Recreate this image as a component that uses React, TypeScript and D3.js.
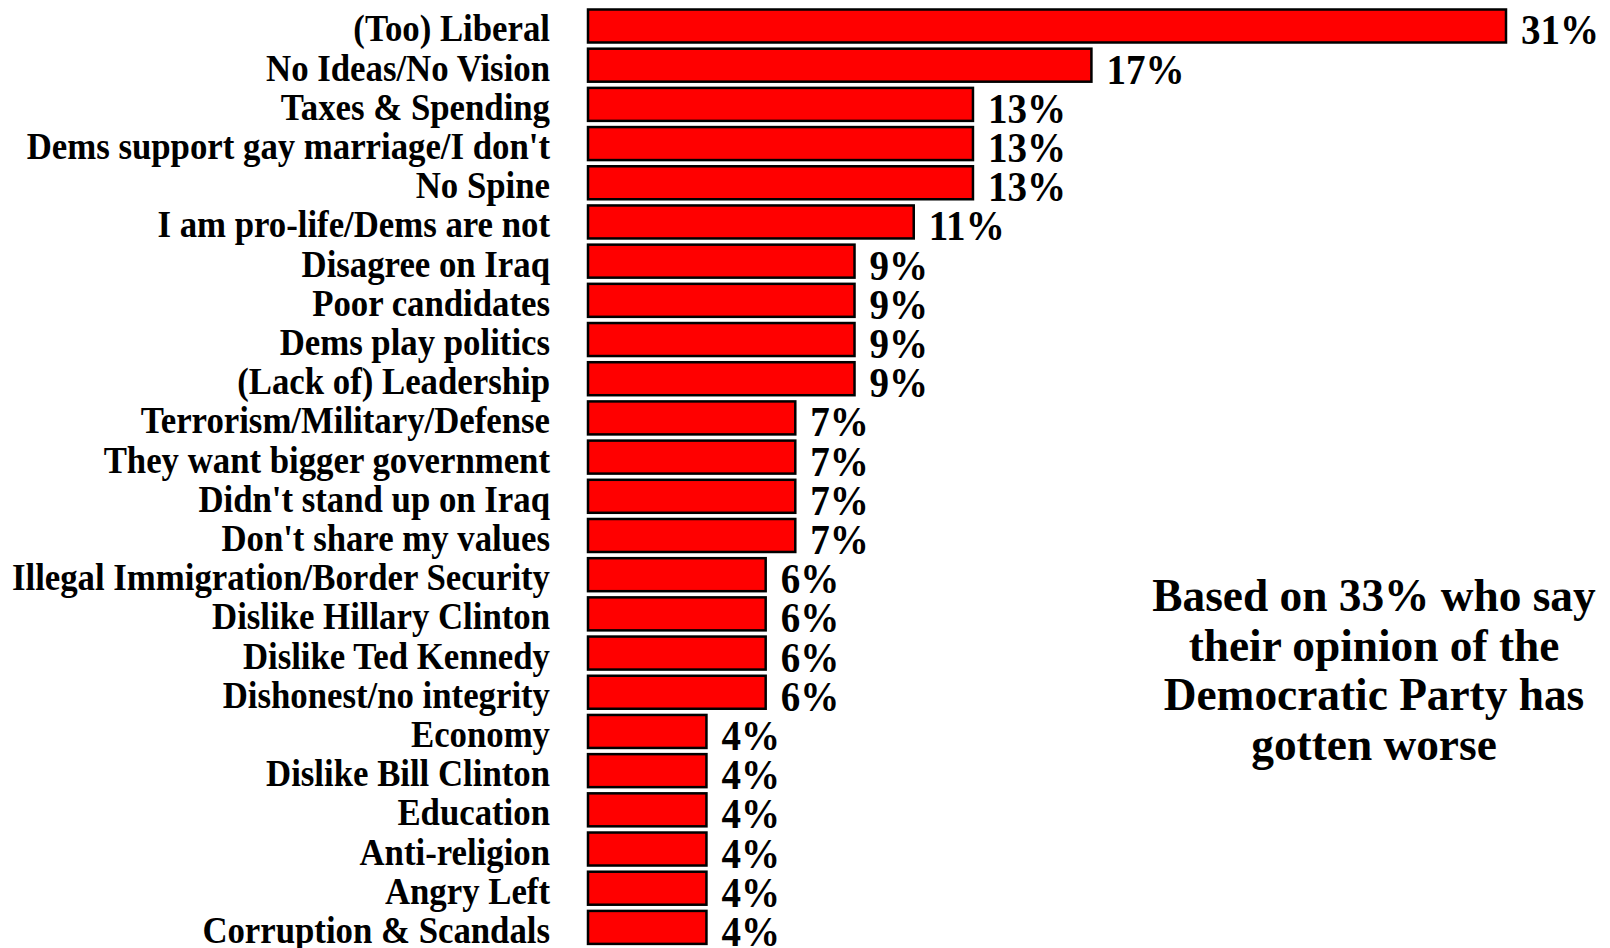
import React from "react";
import * as d3 from "d3";

const categories: string[] = [
  "(Too) Liberal",
  "No Ideas/No Vision",
  "Taxes & Spending",
  "Dems support gay marriage/I don't",
  "No Spine",
  "I am pro-life/Dems are not",
  "Disagree on Iraq",
  "Poor candidates",
  "Dems play politics",
  "(Lack of) Leadership",
  "Terrorism/Military/Defense",
  "They want bigger government",
  "Didn't stand up on Iraq",
  "Don't share my values",
  "Illegal Immigration/Border Security",
  "Dislike Hillary Clinton",
  "Dislike Ted Kennedy",
  "Dishonest/no integrity",
  "Economy",
  "Dislike Bill Clinton",
  "Education",
  "Anti-religion",
  "Angry Left",
  "Corruption & Scandals",
];

const values: number[] = [31, 17, 13, 13, 13, 11, 9, 9, 9, 9, 7, 7, 7, 7, 6, 6, 6, 6, 4, 4, 4, 4, 4, 4];

const noteLines: string[] = [
  "Based on 33% who say",
  "their opinion of the",
  "Democratic Party has",
  "gotten worse",
];

const W = 1610;
const H = 948;
const FONT = "'Liberation Serif', 'Times New Roman', serif";

export default function App() {
  const x = d3.scaleLinear().domain([0, 31]).range([588, 1506]);
  const y = d3
    .scaleBand<string>()
    .domain(categories)
    .range([6.4, 947])
    .paddingInner(0.158)
    .paddingOuter(0.079);
  const bw = y.bandwidth();
  const labSx = 0.915;
  const valSx = 0.93;
  const noteSx = 0.965;
  return (
    <svg
      width={W}
      height={H}
      style={{ position: "absolute", left: 0, top: 0, background: "#fff" }}
      fontFamily={FONT}
      fontWeight="bold"
    >
      {categories.map((c, i) => {
        const y0 = y(c) as number;
        const cy = y0 + bw / 2;
        return (
          <g key={c}>
            <rect
              x={x(0)}
              y={y0}
              width={x(values[i]) - x(0)}
              height={bw}
              fill="#ff0000"
              stroke="#000"
              strokeWidth={2.5}
            />
            <text
              transform={`translate(550,${cy + 15.5}) scale(${labSx},1)`}
              textAnchor="end"
              fontSize={38}
              fill="#000"
            >
              {c}
            </text>
            <text
              transform={`translate(${x(values[i]) + 15},${cy + 18.5}) scale(${valSx},1)`}
              textAnchor="start"
              fontSize={42}
              fill="#000"
            >
              {values[i] + "%"}
            </text>
          </g>
        );
      })}
      {noteLines.map((t, i) => (
        <text
          key={t}
          transform={`translate(1374,${611 + i * 49.5}) scale(${noteSx},1)`}
          textAnchor="middle"
          fontSize={47}
          fill="#000"
        >
          {t}
        </text>
      ))}
    </svg>
  );
}
